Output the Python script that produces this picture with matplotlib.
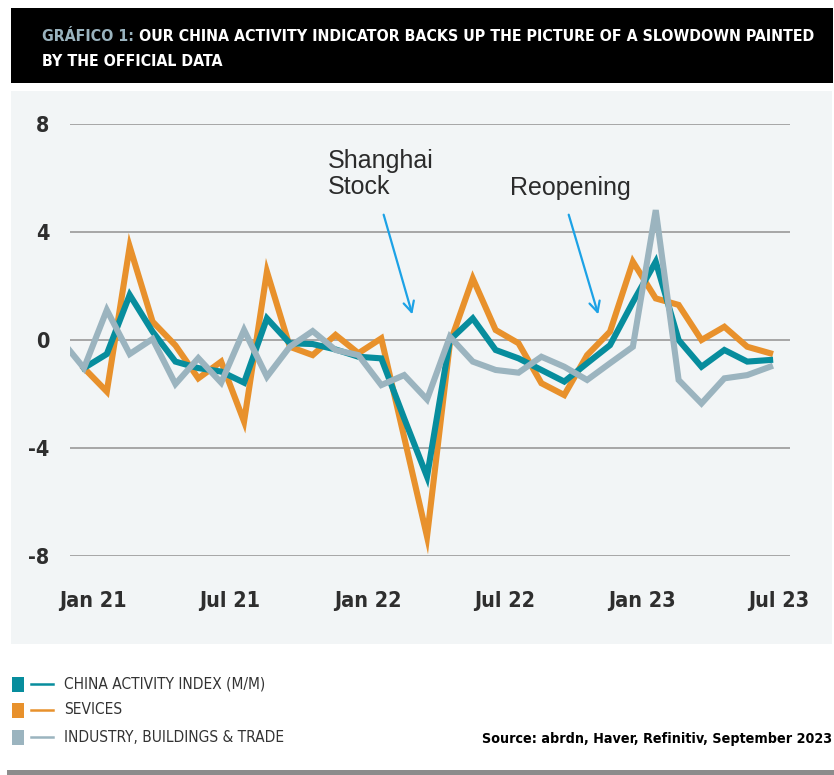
import matplotlib
matplotlib.use('Agg')
import matplotlib.pyplot as plt
from matplotlib import font_manager
from matplotlib.patches import Rectangle
from matplotlib.lines import Line2D
import matplotlib.transforms as mtransforms

# ---------------- data ----------------
months = list(range(31))  # Jan 21 .. Jul 23
tick_idx = [0, 6, 12, 18, 24, 30]
tick_labels = ['Jan 21', 'Jul 21', 'Jan 22', 'Jul 22', 'Jan 23', 'Jul 23']

china_activity = [-1.04, -0.52, 1.67, 0.31, -0.80, -1.04, -1.17, -1.58, 0.80, -0.12,
                  -0.15, -0.35, -0.62, -0.68, -2.90, -5.06, 0.00, 0.80, -0.37, -0.68,
                  -1.11, -1.54, -0.86, -0.19, 1.40, 2.90, 0.00, -0.99, -0.37, -0.80, -0.74]
services = [-1.04, -1.91, 3.46, 0.68, -0.20, -1.42, -0.80, -3.02, 2.53, -0.25,
            -0.56, 0.19, -0.49, 0.06, -3.60, -7.28, -0.12, 2.28, 0.37, -0.12,
            -1.60, -2.04, -0.56, 0.31, 2.90, 1.54, 1.30, 0.00, 0.49, -0.25, -0.49]
industry_months = list(range(-1, 31))  # Dec 20 .. Jul 23
industry = [0.00, -1.04, 1.11, -0.52, 0.04, -1.63, -0.67, -1.58, 0.37, -1.36, -0.25,
            0.33, -0.37, -0.56, -1.67, -1.30, -2.20, 0.12, -0.80, -1.11, -1.21,
            -0.62, -0.99, -1.48, -0.86, -0.25, 4.81, -1.48, -2.35, -1.42, -1.30, -0.99]

series_names = ['CHINA ACTIVITY INDEX (M/M)', 'SEVICES', 'INDUSTRY, BUILDINGS & TRADE']
title_prefix = 'GRÁFICO 1:'
title_rest = ' OUR CHINA ACTIVITY INDICATOR BACKS UP THE PICTURE OF A SLOWDOWN PAINTED'
title_line2 = 'BY THE OFFICIAL DATA'
source_text = 'Source: abrdn, Haver, Refinitiv, September 2023'

# ---------------- style ----------------
TEAL = '#078d9d'
ORANGE = '#e8912c'
GREY = '#9bb4bf'
ARROW = '#1ca2e6'
W, H = 834, 775

fl = font_manager.fontManager.ttflist
names = {f.name for f in fl}
if 'Liberation Sans Narrow' in names:
    NARROW = dict(family='Liberation Sans Narrow')
elif any(f.name == 'DejaVu Sans' and str(f.stretch) in ('condensed', '400', 'semi-condensed')
         for f in fl):
    NARROW = dict(family='DejaVu Sans', fontstretch='condensed')
else:
    NARROW = dict(family='Liberation Sans')
REG = 'Liberation Sans'

fig = plt.figure(figsize=(W / 100, H / 100), dpi=100)
fig.patch.set_facecolor('white')


def fx(x):
    return x / W


def fy(y):
    return 1 - y / H


def rect(x0, y0, x1, y1, color, z=-5):
    fig.patches.append(Rectangle((fx(x0), fy(y1)), fx(x1) - fx(x0), fy(y0) - fy(y1),
                                 transform=fig.transFigure, color=color, zorder=z, lw=0))


rect(11, 8, 833, 83, 'black')
rect(11, 91, 832, 644, '#f2f5f6')
rect(7, 770, 834, 775, '#8c8c8c')

renderer = fig.canvas.get_renderer()


def fit(t, width):
    for _ in range(3):
        bb = t.get_window_extent(renderer)
        t.set_fontsize(t.get_fontsize() * width / bb.width)


# ---------------- axes ----------------
ax = fig.add_axes([fx(70), fy(556), (790 - 70) / W, (556 - 124) / H])
ax.set_zorder(2)
ax.set_facecolor('none')
ax.plot(months, services, color=ORANGE, lw=4.4, solid_joinstyle='miter', zorder=3)
ax.plot(months, china_activity, color=TEAL, lw=4.4, solid_joinstyle='miter', zorder=4)
ax.plot(industry_months, industry, color=GREY, lw=4.4, solid_joinstyle='miter', zorder=5)
ax.set_xlim(-0.61, 30.87)
ax.set_ylim(-8, 8)
ax.set_yticks([-8, -4, 0, 4, 8])
ax.set_yticklabels(['-8', '-4', '0', '4', '8'])
ax.set_xticks(tick_idx)
ax.set_xticklabels(tick_labels)
ax.grid(axis='y', color='#a6a6a6', lw=1.4, zorder=1)
ax.grid(axis='x', visible=False)
ax.set_axisbelow(True)
for s in ax.spines.values():
    s.set_visible(False)
ax.tick_params(axis='both', length=0, colors='#2e2e2e')
ax.tick_params(axis='y', pad=15)
ax.tick_params(axis='x', pad=25)
for lbl in ax.get_yticklabels() + ax.get_xticklabels():
    lbl.set(**NARROW)
    lbl.set_fontweight('bold')
    lbl.set_fontsize(15.5)
off = mtransforms.ScaledTranslation(9 / 100, 0, fig.dpi_scale_trans)
for lbl in ax.get_xticklabels():
    lbl.set_transform(lbl.get_transform() + off)

# annotations
ax.text(10.67, 5.41, 'Shanghai\nStock', family=REG, fontsize=18, color='#2b2b2b',
        va='baseline', ha='left', linespacing=1.08)
ax.text(18.63, 5.37, 'Reopening', family=REG, fontsize=18, color='#2b2b2b',
        va='baseline', ha='left')
ax.annotate('', xy=(14.39, 0.85), xytext=(13.07, 4.74),
            arrowprops=dict(arrowstyle='->,head_length=0.75,head_width=0.38', color=ARROW, lw=1.6))
ax.annotate('', xy=(22.52, 0.85), xytext=(21.16, 4.74),
            arrowprops=dict(arrowstyle='->,head_length=0.75,head_width=0.38', color=ARROW, lw=1.6))

# ---------------- title ----------------
t1 = fig.text(fx(42), fy(41), title_prefix, fontweight='bold', fontsize=15,
              color='#9ab3be', va='baseline', ha='left', **NARROW)
t2 = fig.text(fx(42), fy(41), title_rest, fontweight='bold', fontsize=15,
              color='white', va='baseline', ha='left', **NARROW)
for _ in range(3):
    w1 = t1.get_window_extent(renderer).width
    w2 = t2.get_window_extent(renderer).width
    fs = t1.get_fontsize() * 774 / (w1 + w2)
    t1.set_fontsize(fs)
    t2.set_fontsize(fs)
w1 = t1.get_window_extent(renderer).width
t2.set_x(fx(42 + w1))
t3 = fig.text(fx(42), fy(66), title_line2, fontweight='bold',
              fontsize=t1.get_fontsize(), color='white', va='baseline', ha='left', **NARROW)

# ---------------- legend ----------------
leg_colors = [TEAL, ORANGE, GREY]
leg_y = [684, 710, 737]
leg_texts = []
for c, yy, name in zip(leg_colors, leg_y, series_names):
    rect(12, yy - 7.5, 24, yy + 7.5, c)
    fig.lines.append(Line2D([fx(31), fx(53)], [fy(yy), fy(yy)], transform=fig.transFigure,
                            color=c, lw=1.8))
    leg_texts.append(fig.text(fx(64), fy(yy), name, fontsize=12.5, color='#333333',
                              va='center', ha='left', **NARROW))
fit(leg_texts[0], 201)
for t in leg_texts[1:]:
    t.set_fontsize(leg_texts[0].get_fontsize())

src = fig.text(fx(832), fy(739), source_text, fontweight='bold', fontsize=13,
               color='black', va='center', ha='right', **NARROW)
fit(src, 350)

fig.savefig('out.png', dpi=100, facecolor='white')
